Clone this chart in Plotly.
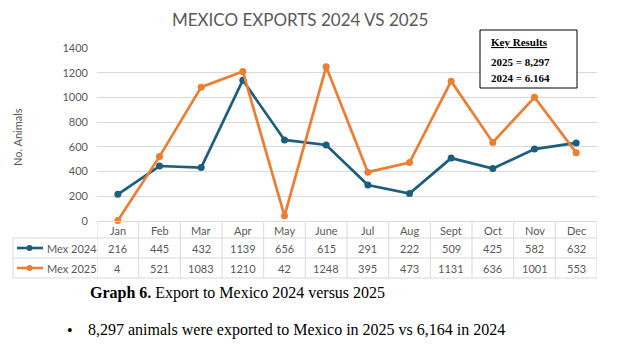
import plotly.graph_objects as go

months = ["Jan", "Feb", "Mar", "Apr", "May", "June", "Jul", "Aug", "Sept", "Oct", "Nov", "Dec"]
mex_2024 = [216, 445, 432, 1139, 656, 615, 291, 222, 509, 425, 582, 632]
mex_2025 = [4, 521, 1083, 1210, 42, 1248, 395, 473, 1131, 636, 1001, 553]
series_names = ["Mex 2024", "Mex 2025"]
series_colors = ["#1B5E7E", "#ED7D31"]
y_ticks = [0, 200, 400, 600, 800, 1000, 1200, 1400]

W, H = 628, 349
L, R, T, B = 97, 31, 48, 128
PW, PH = W - L - R, H - T - B
FONT = "Lato"
GRID = "#D9D9D9"
TXT = "#595959"


def px_x(px):
    return (px - L) / PW


def px_y(py):
    return (H - B - py) / PH


def note(x, y, text, size=11, family=FONT, color=TXT, xanchor="center", xref="paper", **kw):
    return dict(x=x, y=y, xref=xref, yref="paper", text=text, showarrow=False,
                xanchor=xanchor, yanchor="middle",
                font=dict(family=family, size=size, color=color), **kw)


fig = go.Figure()
for name, vals, col in zip(series_names, [mex_2024, mex_2025], series_colors):
    fig.add_trace(go.Scatter(
        x=list(range(len(months))), y=vals, name=name, mode="lines+markers",
        line=dict(color=col, width=2.7), marker=dict(color=col, size=7),
        cliponaxis=False, showlegend=False, hoverinfo="skip"))

ann = []
shapes = []

# table geometry (pixel rows)
row_top, row1, row2, row_bot = 221, 238, 258, 278
tab_left = 13

for i, m in enumerate(months):
    ann.append(note(i, px_y((row_top + row1) / 2 + 1), m, xref="x"))
    ann.append(note(i, px_y((row1 + row2) / 2), str(mex_2024[i]), xref="x"))
    ann.append(note(i, px_y((row2 + row_bot) / 2), str(mex_2025[i]), xref="x"))

for i in range(len(months) + 1):
    shapes.append(dict(type="line", xref="x", yref="paper", x0=i - 0.5, x1=i - 0.5,
                       y0=px_y(row_top), y1=px_y(row_bot), line=dict(color=GRID, width=1)))
for py in [row1, row2, row_bot]:
    shapes.append(dict(type="line", xref="paper", yref="paper", x0=px_x(tab_left), x1=1,
                       y0=px_y(py), y1=px_y(py), line=dict(color=GRID, width=1)))
shapes.append(dict(type="line", xref="paper", yref="paper", x0=px_x(tab_left), x1=px_x(tab_left),
                   y0=px_y(row1), y1=px_y(row_bot), line=dict(color=GRID, width=1)))

for k, (name, col) in enumerate(zip(series_names, series_colors)):
    yc = px_y((row1 + row2) / 2) if k == 0 else px_y((row2 + row_bot) / 2)
    shapes.append(dict(type="line", xref="paper", yref="paper", x0=px_x(17), x1=px_x(43),
                       y0=yc, y1=yc, line=dict(color=col, width=2.6)))
    shapes.append(dict(type="circle", xref="paper", yref="paper", x0=px_x(26.5), x1=px_x(32.5),
                       y0=yc - 3 / PH, y1=yc + 3 / PH, fillcolor=col, line=dict(color=col, width=0)))
    ann.append(note(px_x(45), yc, name, xanchor="left"))

# Key results box
shapes.append(dict(type="rect", xref="paper", yref="paper", x0=px_x(480), x1=px_x(577),
                   y0=px_y(88), y1=px_y(30), line=dict(color="black", width=1), fillcolor="white"))
SERIF = "Liberation Serif"
ann.append(note(px_x(489), px_y(42), "<b><u>Key Results</u></b>", family=SERIF, color="black", xanchor="left"))
ann.append(note(px_x(489), px_y(62), "<b>2025 = 8,297</b>", family=SERIF, color="black", xanchor="left"))
ann.append(note(px_x(489), px_y(78), "<b>2024 = 6.164</b>", family=SERIF, color="black", xanchor="left"))

# Caption and bullet
ann.append(note(px_x(88), px_y(293), "<b>Graph 6.</b> Export to Mexico 2024 versus 2025",
                size=16, family=SERIF, color="black", xanchor="left"))
ann.append(note(px_x(70), px_y(330), "•", size=16, family=SERIF, color="black", xanchor="center"))
ann.append(note(px_x(86), px_y(330), "8,297 animals were exported to Mexico in 2025 vs 6,164 in 2024",
                size=16, family=SERIF, color="black", xanchor="left"))

# y-axis title
ann.append(note(px_x(17), px_y(137), "No. Animals", textangle=-90))

fig.update_layout(
    width=W, height=H, margin=dict(l=L, r=R, t=T, b=B),
    paper_bgcolor="white", plot_bgcolor="white",
    title=dict(text="MEXICO EXPORTS 2024 VS 2025", x=0.478, xanchor="center", y=1 - 20 / H, yanchor="middle",
               font=dict(family=FONT, size=17, color=TXT)),
    xaxis=dict(range=[-0.5, len(months) - 0.5], showticklabels=False, showgrid=False, zeroline=False,
               showline=True, linecolor=GRID, linewidth=1, ticks=""),
    yaxis=dict(range=[0, 1400], tickvals=y_ticks, showgrid=True, gridcolor=GRID, gridwidth=1,
               zeroline=False, ticks="", tickfont=dict(family=FONT, size=11, color=TXT),
               ticklabelstandoff=8),
    annotations=ann, shapes=shapes,
)

fig.write_html("out.html")
